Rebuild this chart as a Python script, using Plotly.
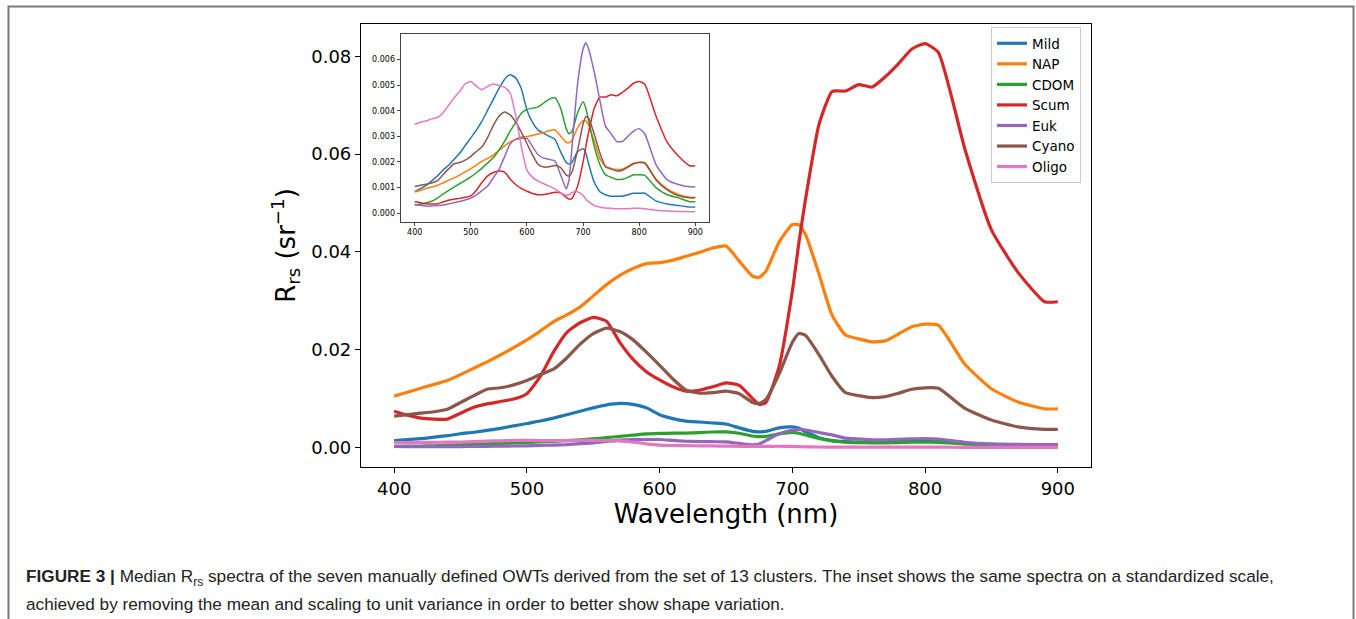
import plotly.graph_objects as go

# ---------------- data ----------------
wavelength = [400, 410, 420, 430, 440, 450, 460, 470, 480, 490, 500, 510, 520, 530, 540,
              550, 560, 570, 580, 590, 600, 610, 620, 630, 640, 650, 660, 670, 675, 680,
              690, 700, 705, 710, 720, 730, 740, 750, 760, 770, 780, 790, 800, 810, 830,
              850, 870, 890, 900]

series_names = ["Mild", "NAP", "CDOM", "Scum", "Euk", "Cyano", "Oligo"]
series_colors = ["#1f77b4", "#ff7f0e", "#2ca02c", "#d62728", "#9467bd", "#8c564b", "#e377c2"]

# main panel: median Rrs (sr^-1)
mild = [0.0014, 0.0016, 0.0018, 0.0021, 0.0024, 0.0028, 0.0031, 0.0035, 0.0039, 0.0044, 0.0049,
        0.0054, 0.0060, 0.0067, 0.0074, 0.0081, 0.0087, 0.0090, 0.0088, 0.0081, 0.0067, 0.0059,
        0.0054, 0.0052, 0.0050, 0.0048, 0.0040, 0.0033, 0.0032, 0.0033, 0.0040, 0.0042, 0.0039,
        0.0032, 0.0020, 0.0014, 0.0012, 0.0011, 0.0011, 0.0011, 0.0012, 0.0013, 0.0013, 0.0013,
        0.0008, 0.0006, 0.0005, 0.0004, 0.0004]
nap = [0.0105, 0.0113, 0.0121, 0.0129, 0.0137, 0.0149, 0.0162, 0.0175, 0.0189, 0.0204, 0.0220,
       0.0238, 0.0257, 0.0271, 0.0287, 0.0310, 0.0333, 0.0352, 0.0366, 0.0376, 0.0378, 0.0383,
       0.0391, 0.0399, 0.0408, 0.0412, 0.0381, 0.0350, 0.0348, 0.0360, 0.0420, 0.0456, 0.0455,
       0.0435, 0.0355, 0.0270, 0.0230, 0.0222, 0.0216, 0.0218, 0.0232, 0.0247, 0.0252, 0.0250,
       0.0170, 0.0120, 0.0093, 0.0079, 0.0079]
cdom = [0.00023, 0.00025, 0.00028, 0.00033, 0.00041, 0.00053, 0.00062, 0.00072, 0.00082, 0.00091,
        0.00101, 0.00112, 0.00125, 0.00139, 0.00153, 0.00174, 0.00199, 0.00227, 0.00252, 0.00277,
        0.00287, 0.00291, 0.00294, 0.00305, 0.00316, 0.00319, 0.00291, 0.00234, 0.00220, 0.00226,
        0.00277, 0.00309, 0.00291, 0.00255, 0.00184, 0.00135, 0.00106, 0.00099, 0.00094, 0.00094,
        0.00099, 0.00106, 0.00106, 0.00105, 0.00071, 0.00051, 0.00043, 0.00032, 0.00032]
scum = [0.0074, 0.0066, 0.0060, 0.0058, 0.0058, 0.0070, 0.0082, 0.0089, 0.0094, 0.0099, 0.0110,
        0.0145, 0.0195, 0.0235, 0.0255, 0.0266, 0.0258, 0.0215, 0.0180, 0.0155, 0.0138, 0.0124,
        0.0115, 0.0117, 0.0124, 0.0132, 0.0127, 0.0100, 0.0088, 0.0092, 0.0165, 0.0320, 0.0420,
        0.0509, 0.0660, 0.0728, 0.0729, 0.0742, 0.0737, 0.0758, 0.0785, 0.0815, 0.0826, 0.0808,
        0.0610, 0.0445, 0.0358, 0.0298, 0.0298]
euk = [0.00019, 0.00017, 0.00016, 0.00016, 0.00017, 0.00018, 0.00020, 0.00023, 0.00026, 0.00029,
       0.00033, 0.00040, 0.00049, 0.00059, 0.00077, 0.00094, 0.00122, 0.00150, 0.00160, 0.00162,
       0.00162, 0.00144, 0.00127, 0.00119, 0.00117, 0.00113, 0.00083, 0.00053, 0.00072, 0.00139,
       0.00278, 0.00356, 0.00370, 0.00356, 0.00306, 0.00256, 0.00189, 0.00172, 0.00156, 0.00156,
       0.00167, 0.00178, 0.00183, 0.00172, 0.00106, 0.00072, 0.00062, 0.00057, 0.00057]
cyano = [0.0064, 0.0067, 0.0070, 0.0073, 0.0078, 0.0092, 0.0106, 0.0119, 0.0122, 0.0128, 0.0137,
         0.0149, 0.0160, 0.0183, 0.0211, 0.0233, 0.0244, 0.0237, 0.0220, 0.0195, 0.0168, 0.0140,
         0.0117, 0.0111, 0.0112, 0.0115, 0.0110, 0.0092, 0.0090, 0.0098, 0.0150, 0.0215, 0.0233,
         0.0229, 0.0190, 0.0145, 0.0112, 0.0106, 0.0102, 0.0104, 0.0111, 0.0119, 0.0122, 0.0121,
         0.0080, 0.0056, 0.0042, 0.0037, 0.0037]
oligo = [0.00099, 0.00101, 0.00103, 0.00105, 0.00107, 0.00111, 0.00120, 0.00129, 0.00136, 0.00144,
         0.00147, 0.00141, 0.00138, 0.00141, 0.00144, 0.00142, 0.00141, 0.00134, 0.00109, 0.00074,
         0.00048, 0.00040, 0.00036, 0.00033, 0.00030, 0.00027, 0.00023, 0.00020, 0.00021, 0.00023,
         0.00024, 0.00020, 0.00016, 0.00013, 0.00009, 0.00007, 0.00006, 0.00005, 0.00005, 0.00005,
         0.00005, 0.00005, 0.00005, 0.00005, 0.00003, 0.00003, 0.00002, 0.00002, 0.00002]

# inset panel: standardized spectra
mild_inset = [0.00084, 0.00096, 0.00108, 0.00126, 0.00144, 0.00168, 0.00186, 0.00210, 0.00234,
              0.00264, 0.00294, 0.00324, 0.00360, 0.00402, 0.00444, 0.00486, 0.00522, 0.00540,
              0.00528, 0.00486, 0.00402, 0.00354, 0.00324, 0.00312, 0.00300, 0.00288, 0.00240,
              0.00198, 0.00192, 0.00198, 0.00240, 0.00252, 0.00234, 0.00192, 0.00120, 0.00084,
              0.00072, 0.00066, 0.00066, 0.00066, 0.00072, 0.00078, 0.00078, 0.00078, 0.00048,
              0.00036, 0.00030, 0.00024, 0.00024]
nap_inset = [0.00083, 0.00089, 0.00096, 0.00102, 0.00108, 0.00118, 0.00128, 0.00138, 0.00149,
             0.00161, 0.00174, 0.00188, 0.00203, 0.00214, 0.00227, 0.00245, 0.00263, 0.00278,
             0.00289, 0.00297, 0.00299, 0.00303, 0.00309, 0.00315, 0.00322, 0.00325, 0.00301,
             0.00277, 0.00275, 0.00284, 0.00332, 0.00360, 0.00360, 0.00344, 0.00280, 0.00213,
             0.00182, 0.00175, 0.00171, 0.00172, 0.00183, 0.00195, 0.00199, 0.00198, 0.00134,
             0.00095, 0.00073, 0.00062, 0.00062]
cdom_inset = [0.00032, 0.00035, 0.00040, 0.00047, 0.00058, 0.00075, 0.00088, 0.00102, 0.00115,
              0.00128, 0.00142, 0.00158, 0.00176, 0.00196, 0.00216, 0.00245, 0.00280, 0.00320,
              0.00355, 0.00390, 0.00405, 0.00410, 0.00415, 0.00430, 0.00445, 0.00450, 0.00410,
              0.00330, 0.00310, 0.00318, 0.00390, 0.00435, 0.00410, 0.00360, 0.00260, 0.00190,
              0.00150, 0.00140, 0.00132, 0.00133, 0.00140, 0.00150, 0.00150, 0.00148, 0.00100,
              0.00072, 0.00060, 0.00045, 0.00045]
scum_inset = [0.00046, 0.00041, 0.00037, 0.00036, 0.00036, 0.00044, 0.00051, 0.00055, 0.00058,
              0.00062, 0.00068, 0.00090, 0.00121, 0.00146, 0.00159, 0.00165, 0.00160, 0.00134,
              0.00112, 0.00096, 0.00086, 0.00077, 0.00072, 0.00073, 0.00077, 0.00082, 0.00079,
              0.00062, 0.00055, 0.00057, 0.00103, 0.00199, 0.00261, 0.00317, 0.00410, 0.00453,
              0.00453, 0.00462, 0.00458, 0.00471, 0.00488, 0.00507, 0.00514, 0.00503, 0.00379,
              0.00277, 0.00223, 0.00185, 0.00185]
euk_inset = [0.00035, 0.00031, 0.00028, 0.00028, 0.00030, 0.00032, 0.00036, 0.00041, 0.00046,
             0.00052, 0.00059, 0.00072, 0.00088, 0.00106, 0.00138, 0.00170, 0.00220, 0.00270,
             0.00288, 0.00292, 0.00292, 0.00260, 0.00228, 0.00215, 0.00210, 0.00204, 0.00150,
             0.00095, 0.00130, 0.00250, 0.00500, 0.00640, 0.00665, 0.00640, 0.00550, 0.00440,
             0.00340, 0.00310, 0.00280, 0.00280, 0.00300, 0.00320, 0.00330, 0.00310, 0.00190,
             0.00130, 0.00112, 0.00103, 0.00103]
cyano_inset = [0.00104, 0.00109, 0.00113, 0.00118, 0.00126, 0.00149, 0.00172, 0.00193, 0.00198,
               0.00207, 0.00222, 0.00241, 0.00259, 0.00296, 0.00342, 0.00377, 0.00395, 0.00384,
               0.00356, 0.00316, 0.00272, 0.00227, 0.00190, 0.00180, 0.00181, 0.00186, 0.00178,
               0.00149, 0.00146, 0.00159, 0.00243, 0.00348, 0.00377, 0.00371, 0.00308, 0.00235,
               0.00181, 0.00172, 0.00165, 0.00168, 0.00180, 0.00193, 0.00198, 0.00196, 0.00130,
               0.00091, 0.00068, 0.00060, 0.00060]
oligo_inset = [0.00347, 0.00355, 0.00360, 0.00368, 0.00373, 0.00390, 0.00420, 0.00450, 0.00475,
               0.00505, 0.00514, 0.00495, 0.00482, 0.00495, 0.00504, 0.00498, 0.00492, 0.00470,
               0.00380, 0.00260, 0.00167, 0.00140, 0.00125, 0.00115, 0.00105, 0.00095, 0.00080,
               0.00070, 0.00072, 0.00080, 0.00084, 0.00070, 0.00055, 0.00045, 0.00030, 0.00024,
               0.00020, 0.00019, 0.00018, 0.00018, 0.00018, 0.00019, 0.00019, 0.00018, 0.00012,
               0.00009, 0.00007, 0.00006, 0.00006]

main_series = [mild, nap, cdom, scum, euk, cyano, oligo]
inset_series = [mild_inset, nap_inset, cdom_inset, scum_inset, euk_inset, cyano_inset, oligo_inset]

x_ticks = [400, 500, 600, 700, 800, 900]
y_ticks_main = [0.00, 0.02, 0.04, 0.06, 0.08]
y_ticks_inset = [0.000, 0.001, 0.002, 0.003, 0.004, 0.005, 0.006]

caption_line1 = ("<b>FIGURE 3 |</b> Median R<sub>rs</sub> spectra of the seven manually defined OWTs "
                 "derived from the set of 13 clusters. The inset shows the same spectra on a standardized scale,")
caption_line2 = "achieved by removing the mean and scaling to unit variance in order to better show shape variation."

# ---------------- figure ----------------
W, H = 1356, 619
fig = go.Figure()

for name, color, ys in zip(series_names, series_colors, main_series):
    fig.add_trace(go.Scatter(x=wavelength, y=ys, mode="lines", name=name,
                             line=dict(color=color, width=3.2, shape="spline", smoothing=0.5),
                             xaxis="x", yaxis="y"))

for name, color, ys in zip(series_names, series_colors, inset_series):
    fig.add_trace(go.Scatter(x=wavelength, y=ys, mode="lines", name=name, showlegend=False,
                             line=dict(color=color, width=1.5, shape="spline", smoothing=0.5),
                             xaxis="x2", yaxis="y2"))

def px_x(p):
    return p / W

def px_y(p):
    return 1 - p / H

tick_font = dict(family="DejaVu Sans", size=18, color="#000")
fig.update_layout(
    width=W, height=H,
    margin=dict(l=0, r=0, t=0, b=0),
    paper_bgcolor="white", plot_bgcolor="white",
    showlegend=True,
    legend=dict(x=px_x(991), y=px_y(27), xanchor="left", yanchor="top",
                bgcolor="white", bordercolor="#cccccc", borderwidth=1,
                entrywidth=56, entrywidthmode="pixels",
                font=dict(family="DejaVu Sans", size=13.5, color="#000")),
    xaxis=dict(domain=[px_x(361), px_x(1091)], range=[375, 925], tickvals=x_ticks,
               showline=True, linecolor="#000", linewidth=1.2, mirror=True,
               ticks="outside", ticklen=5, tickcolor="#000", tickwidth=1.2,
               showgrid=False, zeroline=False, tickfont=tick_font, anchor="y",
               title=dict(text="Wavelength (nm)", font=dict(family="DejaVu Sans", size=26, color="#000"),
                          standoff=6)),
    yaxis=dict(domain=[px_y(467), px_y(24)], range=[-0.0040, 0.0866], tickvals=y_ticks_main,
               tickformat=".2f",
               showline=True, linecolor="#000", linewidth=1.2, mirror=True,
               ticks="outside", ticklen=5, tickcolor="#000", tickwidth=1.2,
               showgrid=False, zeroline=False, tickfont=tick_font, anchor="x",
               title=dict(text="R<sub>rs</sub> (sr<sup>−1</sup>)",
                          font=dict(family="DejaVu Sans", size=26, color="#000"), standoff=8)),
    xaxis2=dict(domain=[px_x(400.7), px_x(709.3)], range=[375, 925], tickvals=x_ticks,
                showline=True, linecolor="#444", linewidth=1.2, mirror=True,
                ticks="outside", ticklen=3, tickcolor="#444", tickwidth=1,
                showgrid=False, zeroline=False, anchor="y2",
                tickfont=dict(family="DejaVu Sans", size=8, color="#000")),
    yaxis2=dict(domain=[px_y(221.7), px_y(34.3)], range=[-0.00033, 0.00698], tickvals=y_ticks_inset,
                tickformat=".3f",
                showline=True, linecolor="#444", linewidth=1.2, mirror=True,
                ticks="outside", ticklen=3, tickcolor="#444", tickwidth=1,
                showgrid=False, zeroline=False, anchor="x2",
                tickfont=dict(family="DejaVu Sans", size=8, color="#000")),
)

# figure frame (top and side rules of the page panel)
fig.add_shape(type="path", xref="paper", yref="paper",
              path=f"M {px_x(8.5)} 0 L {px_x(8.5)} {px_y(6.5)} L {px_x(1353.5)} {px_y(6.5)} L {px_x(1353.5)} 0",
              line=dict(color="#7a7a7a", width=2))

# caption
fig.add_annotation(x=px_x(24), y=px_y(577), xref="paper", yref="paper", xanchor="left", yanchor="middle",
                   text=caption_line1, showarrow=False,
                   font=dict(family="Liberation Sans", size=17.2, color="#222"))
fig.add_annotation(x=px_x(24), y=px_y(604), xref="paper", yref="paper", xanchor="left", yanchor="middle",
                   text=caption_line2, showarrow=False,
                   font=dict(family="Liberation Sans", size=17.2, color="#222"))

fig.write_html("out.html")
